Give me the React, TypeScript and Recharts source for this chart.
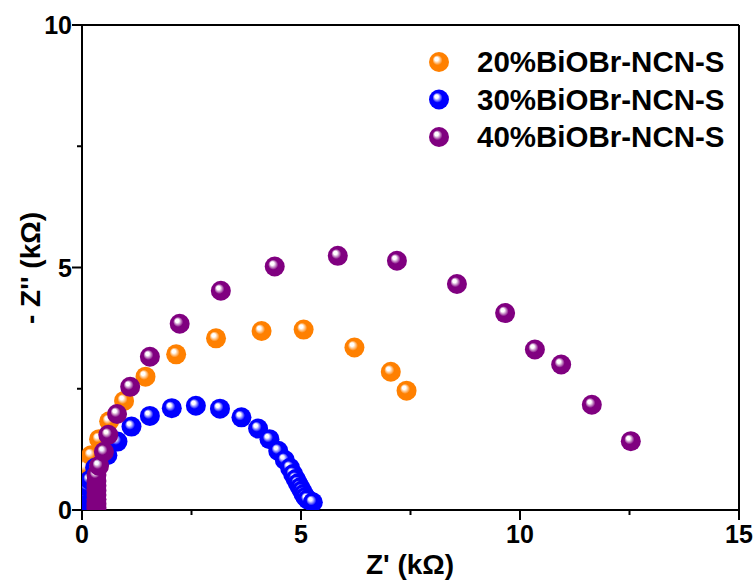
import React from 'react'
import {
  ScatterChart,
  Scatter,
  XAxis,
  YAxis,
  ReferenceLine,
} from 'recharts'

// Z' (kΩ) and -Z'' (kΩ)
const zRe20 = [0.01, 0.02, 0.03, 0.05, 0.07, 0.21, 0.39, 0.62, 0.96, 1.45, 2.15, 3.06, 4.1, 5.06, 6.22, 7.05, 7.41]
const zIm20 = [0.12, 0.35, 0.6, 0.75, 0.87, 1.13, 1.46, 1.83, 2.25, 2.75, 3.21, 3.54, 3.69, 3.72, 3.35, 2.85, 2.46]

const zRe30 = [0.02, 0.04, 0.07, 0.12, 0.18, 0.3, 0.58, 0.81, 1.13, 1.55, 2.05, 2.6, 3.15, 3.64, 4.02, 4.28, 4.48, 4.63, 4.75, 4.82, 4.88, 4.93, 4.98, 5.02, 5.06, 5.1, 5.15, 5.27]
const zIm30 = [0.1, 0.22, 0.35, 0.48, 0.62, 0.87, 1.13, 1.41, 1.72, 1.94, 2.1, 2.15, 2.09, 1.91, 1.68, 1.46, 1.22, 1.03, 0.87, 0.74, 0.64, 0.55, 0.47, 0.4, 0.33, 0.27, 0.22, 0.16]

const zRe40 = [0.33, 0.33, 0.33, 0.33, 0.33, 0.33, 0.33, 0.33, 0.39, 0.5, 0.6, 0.8, 1.1, 1.55, 2.23, 3.17, 4.4, 5.84, 7.19, 8.56, 9.66, 10.34, 10.94, 11.64, 12.53]
const zIm40 = [0.05, 0.13, 0.22, 0.31, 0.4, 0.5, 0.6, 0.72, 0.91, 1.2, 1.55, 1.98, 2.54, 3.16, 3.84, 4.52, 5.02, 5.24, 5.14, 4.66, 4.06, 3.31, 3.0, 2.17, 1.42]

const seriesNames = ['20%BiOBr-NCN-S', '30%BiOBr-NCN-S', '40%BiOBr-NCN-S']
const seriesColors = ['#ff8000', '#0000ff', '#800080']
const gradIds = ['ball-orange', 'ball-blue', 'ball-purple']

const xTicks = [0, 2.5, 5, 7.5, 10, 12.5, 15]
const yTicks = [0, 2.5, 5, 7.5, 10]

const toPoints = (xs: number[], ys: number[]) => xs.map((x, i) => ({ x, y: ys[i] }))

const font = "'Liberation Sans', Arial, sans-serif"

const Ball = (id: string) => (props: any) => {
  const { cx, cy } = props
  if (cx == null || cy == null) return null
  return <circle cx={cx} cy={cy} r={10} fill={`url(#${id})`} />
}

const XTick = (props: any) => {
  const { x, y, payload } = props
  const major = payload.value % 5 === 0
  return (
    <g>
      <line x1={x} x2={x} y1={y} y2={y + (major ? 10 : 5)} stroke="#000" strokeWidth={2} />
      {major && (
        <text x={x} y={y + 33} textAnchor="middle" fontFamily={font} fontWeight="bold" fontSize={25} fill="#000">
          {payload.value}
        </text>
      )}
    </g>
  )
}

const YTick = (props: any) => {
  const { x, y, payload } = props
  const major = payload.value % 5 === 0
  return (
    <g>
      <line x1={x} x2={x - (major ? 10 : 5)} y1={y} y2={y} stroke="#000" strokeWidth={2} />
      {major && (
        <text x={x - 10} y={y + 9} textAnchor="end" fontFamily={font} fontWeight="bold" fontSize={25} fill="#000">
          {payload.value}
        </text>
      )}
    </g>
  )
}

export default function App() {
  const data = [toPoints(zRe20, zIm20), toPoints(zRe30, zIm30), toPoints(zRe40, zIm40)]
  return (
    <div style={{ position: 'absolute', left: 0, top: 0, width: 755, height: 581, background: '#fff' }}>
      <svg width={0} height={0} style={{ position: 'absolute' }}>
        <defs>
          {seriesColors.map((c, i) => (
            <radialGradient key={i} id={gradIds[i]} cx="0.5" cy="0.5" r="0.5" fx="0.35" fy="0.32">
              <stop offset="0" stopColor="#ffffff" />
              <stop offset="0.18" stopColor="#ffffff" stopOpacity={0.95} />
              <stop offset="0.5" stopColor={c} />
              <stop offset="1" stopColor={c} />
            </radialGradient>
          ))}
        </defs>
      </svg>
      <ScatterChart width={755} height={581} margin={{ top: 25, right: 16, left: 0, bottom: 0 }}>
        <XAxis
          type="number"
          dataKey="x"
          domain={[0, 15]}
          ticks={xTicks}
          allowDataOverflow
          height={71}
          tickSize={0}
          tickMargin={0}
          tick={<XTick />}
          axisLine={{ stroke: '#000', strokeWidth: 2 }}
          interval={0}
        />
        <YAxis
          type="number"
          dataKey="y"
          domain={[0, 10]}
          ticks={yTicks}
          allowDataOverflow
          width={82}
          tickSize={0}
          tickMargin={0}
          tick={<YTick />}
          axisLine={{ stroke: '#000', strokeWidth: 2 }}
          interval={0}
        />
        <ReferenceLine y={10} stroke="#000" strokeWidth={2} />
        <ReferenceLine x={15} stroke="#000" strokeWidth={2} />
        {data.map((d, i) => (
          <Scatter
            key={i}
            name={seriesNames[i]}
            data={d}
            fill={seriesColors[i]}
            shape={Ball(gradIds[i])}
            isAnimationActive={false}
          />
        ))}
      </ScatterChart>
      <svg width={755} height={581} style={{ position: 'absolute', left: 0, top: 0, pointerEvents: 'none' }}>
        <text x={410} y={574} textAnchor="middle" fontFamily={font} fontWeight="bold" fontSize={28} fill="#000">
          Z' (kΩ)
        </text>
        <text
          transform="translate(40,268) rotate(-90)"
          textAnchor="middle"
          fontFamily={font}
          fontWeight="bold"
          fontSize={28}
          fill="#000"
        >
          - Z'' (kΩ)
        </text>
        {seriesNames.map((n, i) => (
          <g key={n}>
            <circle cx={439} cy={62 + i * 37.5} r={10} fill={`url(#${gradIds[i]})`} />
            <text x={477} y={72 + i * 37.5} fontFamily={font} fontWeight="bold" fontSize={29.5} fill="#000">
              {n}
            </text>
          </g>
        ))}
      </svg>
    </div>
  )
}
